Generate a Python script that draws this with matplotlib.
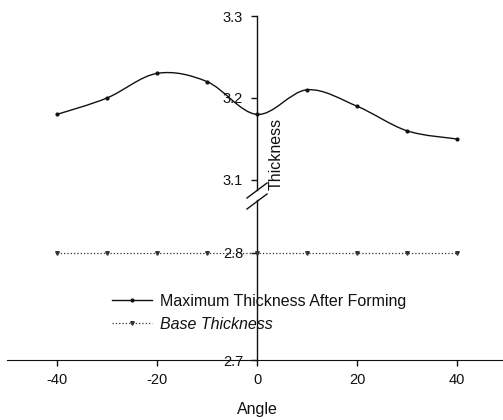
import matplotlib
matplotlib.use('Agg')
import matplotlib.pyplot as plt
import numpy as np
from matplotlib.path import Path
from matplotlib.patches import PathPatch
from matplotlib.lines import Line2D

plt.rcParams['font.family'] = ['Liberation Sans', 'DejaVu Sans']
plt.rcParams['axes.unicode_minus'] = False

angle = [-40, -30, -20, -10, 0, 10, 20, 30, 40]
max_thickness = [3.18, 3.20, 3.23, 3.22, 3.18, 3.21, 3.19, 3.16, 3.15]
base_thickness = [2.80, 2.80, 2.80, 2.80, 2.80, 2.80, 2.80, 2.80, 2.80]

upper_ticks = [3.1, 3.2, 3.3]
lower_ticks = [2.7, 2.8]
x_ticks = [-40, -20, 0, 20, 40]

INK = '#111111'


def smooth_path(xs, ys):
    """Catmull-Rom spline through the points, expressed as cubic Bezier segments."""
    p = np.column_stack([xs, ys]).astype(float)
    ext = np.vstack([p[0], p, p[-1]])
    verts = [p[0]]
    codes = [Path.MOVETO]
    for i in range(len(p) - 1):
        p0, p1, p2, p3 = ext[i], ext[i + 1], ext[i + 2], ext[i + 3]
        c1 = p1 + (p2 - p0) / 6.0
        c2 = p2 - (p3 - p1) / 6.0
        verts += [c1, c2, p2]
        codes += [Path.CURVE4] * 3
    return Path(verts, codes)


W, H = 503, 420
fig = plt.figure(figsize=(W / 100, H / 100), dpi=100, facecolor='white')

left = 7 / W
width = 496 / W
ax_top = fig.add_axes([left, 1 - 190 / H, width, 174 / H])
ax_bot = fig.add_axes([left, 1 - 360 / H, width, 160 / H])

for ax in (ax_top, ax_bot):
    ax.set_xlim(-50, 49.2)
    ax.patch.set_alpha(0)
    ax.spines['top'].set_visible(False)
    ax.spines['right'].set_visible(False)
    ax.spines['left'].set_position(('data', 0))
    ax.spines['left'].set_color(INK)
    ax.spines['left'].set_linewidth(1.0)
    ax.tick_params(axis='y', direction='out', length=4, width=1.0,
                   pad=6, labelsize=10.5, colors=INK)

ax_top.spines['bottom'].set_visible(False)
ax_top.set_xticks([])
ax_top.set_ylim(3.0878, 3.3)
ax_top.set_yticks(upper_ticks)

ax_bot.set_ylim(2.7, 2.8495)
ax_bot.set_yticks(lower_ticks)
ax_bot.set_xticks(x_ticks)
ax_bot.spines['bottom'].set_color(INK)
ax_bot.tick_params(axis='x', direction='out', length=4, width=1.0,
                   pad=5, labelsize=10.5, colors=INK)

# maximum thickness: smooth curve plus point markers
curve = PathPatch(smooth_path(angle, max_thickness), fill=False,
                  edgecolor=INK, linewidth=1.0, zorder=3)
ax_top.add_patch(curve)
ax_top.plot(angle, max_thickness, linestyle='none', marker='o',
            markersize=2.0, color=INK, zorder=4)

# base thickness
ax_bot.plot(angle, base_thickness, linestyle=':', linewidth=0.9,
            marker='v', markersize=2.6, color='#333333', zorder=3)

ax_top.set_ylabel('Thickness', fontsize=11.5, color=INK)
ax_top.yaxis.set_label_coords((276 - 7) / 496, (190 - 154) / 174)
ax_top.yaxis.label.set_ha('center')
ax_top.yaxis.label.set_va('center')

ax_bot.set_xlabel('Angle', fontsize=11.5, color=INK)
ax_bot.xaxis.set_label_coords((257 - 7) / 496, (360 - 402) / 160)

# axis break marks
for yc in (190.5 / H, 201.5 / H):
    xc = ax_bot.transData.transform((0, 2.7))[0] / W
    dx, dy = 10 / W, 7.5 / H
    fig.add_artist(Line2D([xc - dx, xc + dx], [1 - yc - dy, 1 - yc + dy],
                          color=INK, linewidth=1.0))

handles = [
    Line2D([], [], color=INK, linewidth=1.0, marker='o', markersize=2.0),
    Line2D([], [], color='#333333', linestyle=':', linewidth=0.9,
           marker='v', markersize=2.6),
]
leg = fig.legend(handles, ['Maximum Thickness After Forming', 'Base Thickness'],
                 loc='upper left', bbox_to_anchor=(112 / W, 1 - 294 / H),
                 frameon=False, fontsize=11.5, handlelength=2.5,
                 handletextpad=0.5, labelspacing=0.5, borderpad=0,
                 borderaxespad=0, markerscale=1.0)
for t in leg.get_texts():
    t.set_color(INK)
leg.get_texts()[1].set_style('italic')

fig.savefig('out.png', dpi=100, facecolor='white')
